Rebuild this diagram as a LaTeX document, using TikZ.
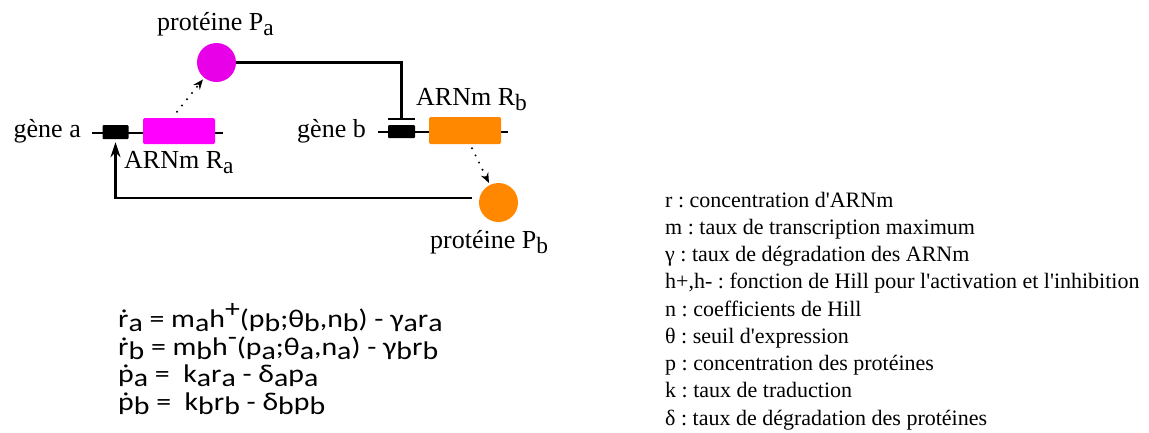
\documentclass[tikz,border=0pt]{standalone}
\usepackage{fontspec}
\setmainfont{Liberation Serif}[Ligatures=TeXOff]
\newfontfamily\eqfont{Carlito}[FakeStretch=1.17]
\usetikzlibrary{arrows.meta}
\definecolor{magA}{RGB}{255,0,255}
\definecolor{magC}{RGB}{232,0,232}
\definecolor{orgB}{RGB}{255,136,0}
\frenchspacing
\newcommand\lsub[1]{\raisebox{-0.22em}{\scalebox{0.9}{#1}}}
\newcommand\esub[1]{\raisebox{-0.16em}{#1}}
\newcommand\esup[1]{\raisebox{0.36em}{#1}}
\begin{document}
\begin{tikzpicture}[x=1pt,y=-1pt,
  gline/.style={line width=2.5pt},
  blk/.style={fill=black, draw=none, rounded corners=1pt, inner sep=0pt},
  gbox/.style={draw=none, rounded corners=1.5pt, inner sep=0pt, minimum width=72pt, minimum height=26pt},
  prot/.style={circle, draw=none, inner sep=0pt, minimum size=39pt},
  lbl/.style={inner sep=0pt, font=\fontsize{26}{30}\selectfont},
  leg/.style={inner sep=0pt, anchor=base west, font=\fontsize{22}{26}\selectfont},
  eq/.style={inner sep=0pt, anchor=base west, font=\eqfont\fontsize{25.5}{30}\selectfont},
  dotarr/.style={line width=2.2pt, line cap=round, dash pattern=on 0pt off 8pt, shorten >=2pt,
     -{Stealth[length=10pt,width=8pt,line cap=butt]}},
]
\useasboundingbox (0,0) rectangle (1149,432);
% gene lines
\draw[gline] (92,133) -- (223,133);
\draw[gline] (378,132) -- (508,132);
% gene elements
\node[blk, minimum width=26pt, minimum height=14pt] (boxa) at (115.5,132) {};
\node[gbox, fill=magA] (ma) at (179,131) {};
\node[blk, minimum width=27pt, minimum height=13pt] (boxb) at (401.5,131.5) {};
\node[gbox, fill=orgB, minimum height=27pt] (mb) at (465,130.5) {};
% proteins
\node[prot, fill=magC] (pa) at (216.5,62.5) {};
\node[prot, fill=orgB] (pb) at (498.5,202.5) {};
% labels
\node[lbl, anchor=base east] (ga) at (81,137) {gène a};
\node[lbl, anchor=base east] (gb) at (366,137) {gène b};
\node[lbl, anchor=base west] (ra) at (124,168) {ARNm R\lsub{a}};
\node[lbl, anchor=base west] (rb) at (416,105) {ARNm R\lsub{b}};
\node[lbl, anchor=base west] (tpa) at (157,30) {protéine P\lsub{a}};
\node[lbl, anchor=base west] (tpb) at (430,248) {protéine P\lsub{b}};
% inhibition
\draw[gline] (pa.east) -| ([yshift=5.5pt]boxb.north);
\draw[line width=2.2pt] ([yshift=5.5pt]boxb.north west) -- ([yshift=5.5pt]boxb.north east);
% activation
\coordinate (act) at (472,198);
\draw[gline, -{Stealth[length=15pt,width=10pt]}] (act) -| ([yshift=-3pt]boxa.south);
% translation
\draw[dotarr] ([shift={(-2,-6)}]ma.north) -- (pa);
\draw[dotarr] ([shift={(7,4)}]mb.south) -- (pb);
% equations
\node[eq] (e1) at (118,327) {ṙ\esub{a} = m\esub{a}h\esup{+}(p\esub{b};θ\esub{b},n\esub{b}) - γ\esub{a}r\esub{a}};
\node[eq] (e2) at (118,355) {ṙ\esub{b} = m\esub{b}h\esup{-}(p\esub{a};θ\esub{a},n\esub{a}) - γ\esub{b}r\esub{b}};
\node[eq] (e3) at (118,382) {ṗ\esub{a} = \ k\esub{a}r\esub{a} - δ\esub{a}p\esub{a}};
\node[eq] (e4) at (118,410) {ṗ\esub{b} = \ k\esub{b}r\esub{b} - δ\esub{b}p\esub{b}};
% legend
\node[leg] (l1) at (665,207) {r : concentration d'ARNm};
\node[leg] (l2) at (665,234.25) {m : taux de transcription maximum};
\node[leg] (l3) at (665,261.5) {γ : taux de dégradation des ARNm};
\node[leg] (l4) at (665,288.75) {h+,h- : fonction de Hill pour l'activation et l'inhibition};
\node[leg] (l5) at (665,316) {n : coefficients de Hill};
\node[leg] (l6) at (665,343.25) {θ : seuil d'expression};
\node[leg] (l7) at (665,370.5) {p : concentration des protéines};
\node[leg] (l8) at (665,397.75) {k : taux de traduction};
\node[leg] (l9) at (665,425) {δ : taux de dégradation des protéines};
\end{tikzpicture}
\end{document}
